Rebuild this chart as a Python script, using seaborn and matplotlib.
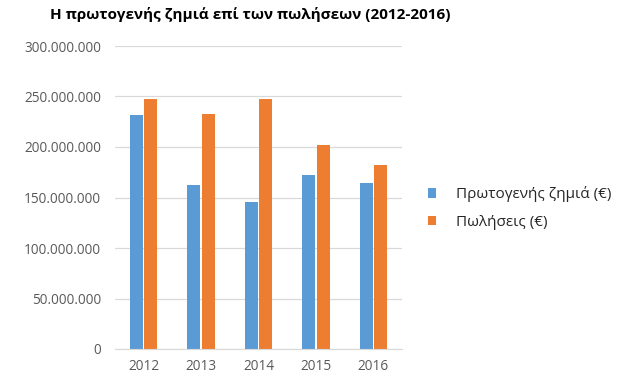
import matplotlib
matplotlib.use("Agg")
import matplotlib.pyplot as plt
import seaborn as sns
import pandas as pd
from matplotlib.ticker import FuncFormatter, MultipleLocator

years = ["2012", "2013", "2014", "2015", "2016"]
primary_loss = [231500000, 162000000, 146000000, 172000000, 164000000]
sales = [247500000, 232500000, 247500000, 201500000, 182000000]
series_names = ["Πρωτογενής ζημιά (€)", "Πωλήσεις (€)"]
title = "Η πρωτογενής ζημιά επί των πωλήσεων (2012-2016)"

df = pd.DataFrame({
    "year": years * 2,
    "value": primary_loss + sales,
    "series": [series_names[0]] * len(years) + [series_names[1]] * len(years),
})

sns.set_style("white")
plt.rcParams["font.family"] = ["Open Sans", "DejaVu Sans"]

fig = plt.figure(figsize=(6.26, 3.90), dpi=100)
ax = fig.add_axes([115 / 626, 1 - 349 / 390, (402 - 115) / 626, (349 - 46) / 390])

sns.barplot(data=df, x="year", y="value", hue="series", ax=ax,
            palette=["#5B9BD5", "#ED7D31"], width=0.5, gap=0.1,
            saturation=1, errorbar=None, legend=True, linewidth=0)

ax.set_ylim(0, 300000000)
ax.yaxis.set_major_locator(MultipleLocator(50000000))
ax.yaxis.set_major_formatter(FuncFormatter(lambda v, p: f"{int(v):,}".replace(",", ".")))
ax.grid(axis="y", color="#D9D9D9", linewidth=0.9)
ax.set_axisbelow(True)
for s in ["top", "right", "left"]:
    ax.spines[s].set_visible(False)
ax.spines["bottom"].set_color("#D9D9D9")
ax.tick_params(axis="both", length=0, colors="#595959", labelsize=9.8)
ax.tick_params(axis="y", pad=10)
ax.tick_params(axis="x", pad=7)
ax.set_xlabel("")
ax.set_ylabel("")

handles, labels = ax.get_legend_handles_labels()
ax.legend(handles, labels, loc="center left", bbox_to_anchor=(428 / 626, 1 - 208 / 390),
          bbox_transform=fig.transFigure, frameon=False, fontsize=11,
          handlelength=0.55, handleheight=0.55, handletextpad=1.3, labelspacing=0.8,
          borderpad=0, borderaxespad=0, labelcolor="#262626")

fig.text(50 / 626, 1 - 14 / 390, title, fontsize=11, fontweight="bold",
         ha="left", va="center", color="#000000")

fig.savefig("out.png", dpi=100)
